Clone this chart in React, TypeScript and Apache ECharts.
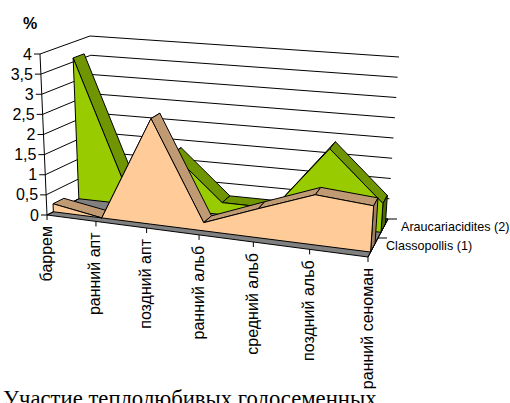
import React, { useEffect, useRef } from "react";
import * as echarts from "echarts";

const categories = ["баррем", "ранний апт", "поздний апт", "ранний альб", "средний альб", "поздний альб", "ранний сеноман"];
const valueTicks = [0, 0.5, 1, 1.5, 2, 2.5, 3, 3.5, 4];
const valueLabels = ["0", "0,5", "1", "1,5", "2", "2,5", "3", "3,5", "4"];
const depthNames = ["Classopollis (1)", "Araucariacidites (2)"];
const classopollis = [0.2, 0, 2.6, 0.2, 0.7, 1.2, 1.1];
const araucariacidites = [3.6, 0.5, 1.4, 0.3, 0.3, 1.9, 0.7];

const SANS = '"Liberation Sans", Arial, sans-serif';
const SERIF = '"Liberation Serif", "Times New Roman", serif';

// Box corners on the page, indexed [u][v][w]: u along categories, v into depth, w up.
const CORNERS: number[][][][] = [
  [
    [[47, 215], [40, 54]],
    [[96, 190], [90, 36]],
  ],
  [
    [[368, 257], [379, 88]],
    [[388, 219], [399, 57]],
  ],
];
const RIGHT_WEIGHT = 0.9; // foreshortening along the category axis

function project(u: number, v: number, w: number): number[] {
  let sx = 0;
  let sy = 0;
  let sw = 0;
  for (let a = 0; a < 2; a++) {
    for (let b = 0; b < 2; b++) {
      for (let c = 0; c < 2; c++) {
        const k = (a ? u * RIGHT_WEIGHT : 1 - u) * (b ? v : 1 - v) * (c ? w : 1 - w);
        sx += CORNERS[a][b][c][0] * k;
        sy += CORNERS[a][b][c][1] * k;
        sw += k;
      }
    }
  }
  return [sx / sw, sy / sw];
}

// The hidden grid is 100x100 at the origin, so its pixels read directly as percentages of the box.
const GRID_SIZE = 100;
function place(api: any, cat: number, val: number, v: number): number[] {
  const p = api.coord([cat, val]);
  return project(p[0] / GRID_SIZE, v, (GRID_SIZE - p[1]) / GRID_SIZE);
}

const LINE = { stroke: "#000", lineWidth: 1, fill: null as any };

function poly(points: number[][], fill: string, z2 = 0) {
  return {
    type: "polygon",
    z2,
    shape: { points },
    style: { fill, stroke: "#000", lineWidth: 1, lineJoin: "round" },
  };
}
function line(points: number[][]) {
  return { type: "polyline", shape: { points }, style: { ...LINE } };
}

function areaRenderer(values: number[], vFront: number, vRear: number, fill: string, top: string, side: string) {
  return (params: any, api: any) => {
    const i = params.dataIndex;
    const last = values.length - 1;
    const children: any[] = [];
    if (i > 0) {
      children.push(
        poly(
          [
            place(api, i - 1, values[i - 1], vFront),
            place(api, i - 1, values[i - 1], vRear),
            place(api, i, values[i], vRear),
            place(api, i, values[i], vFront),
          ],
          top
        )
      );
    }
    if (i === last) {
      children.push(
        poly(
          [
            place(api, last, values[last], vFront),
            place(api, last, values[last], vRear),
            place(api, last, 0, vRear),
            place(api, last, 0, vFront),
          ],
          side
        )
      );
      const outline = values.map((val, j) => place(api, j, val, vFront));
      outline.push(place(api, last, 0, vFront), place(api, 0, 0, vFront));
      children.push(poly(outline, fill, 5));
    }
    return { type: "group", children };
  };
}

function frameRenderer(params: any, api: any) {
  const i = params.dataIndex;
  const val = valueTicks[i];
  const children: any[] = [];
  if (i === 0) {
    children.push(
      poly(
        [place(api, 0, 0, 0), place(api, 6, 0, 0), place(api, 6, 0, 1), place(api, 0, 0, 1)],
        "#808080"
      )
    );
    children.push(line([place(api, 0, 0, 0), place(api, 0, 4, 0)]));
  }
  const a = place(api, 0, val, 0);
  children.push(line([a, place(api, 0, val, 1), place(api, 6, val, 1)]));
  children.push(line([[a[0] - 6, a[1]], a]));
  children.push({
    type: "text",
    x: a[0] - 8,
    y: a[1],
    style: {
      text: valueLabels[i],
      align: "right",
      verticalAlign: "middle",
      fontFamily: SANS,
      fontSize: 16,
      fill: "#000",
    },
  });
  return { type: "group", children };
}

function categoryRenderer(params: any, api: any) {
  const i = params.dataIndex;
  const a = place(api, i, 0, 0);
  return {
    type: "group",
    children: [
      line([a, [a[0], a[1] + 5]]),
      {
        type: "text",
        x: a[0] - 1,
        y: a[1] + 11,
        rotation: Math.PI / 2,
        style: {
          text: categories[i],
          align: "right",
          verticalAlign: "middle",
          fontFamily: SANS,
          fontSize: 16,
          fill: "#000",
        },
      },
    ],
  };
}

function depthRenderer(params: any, api: any) {
  const i = params.dataIndex;
  const children: any[] = [];
  const edge = place(api, 6, 0, 0.25 + i * 0.5);
  children.push({
    type: "text",
    x: edge[0] + 13 + i * 5,
    y: edge[1] - 2,
    style: {
      text: depthNames[i],
      align: "left",
      verticalAlign: "middle",
      fontFamily: SANS,
      fontSize: 12.6,
      fill: "#000",
    },
  });
  const t1 = place(api, 6, 0, 0.5 + i * 0.5);
  children.push(line([t1, [t1[0] + 9, t1[1]]]));
  if (i === 0) {
    children.push(line([place(api, 6, 0, 0), place(api, 6, 0, 1)]));
  }
  return { type: "group", children };
}

function customSeries(z: number, count: number, renderItem: any) {
  return {
    type: "custom",
    z,
    silent: true,
    coordinateSystem: "cartesian2d",
    renderItem,
    data: Array.from({ length: count }, (_, i) => [i, 0]),
  };
}

export default function App() {
  const ref = useRef<HTMLDivElement>(null);
  useEffect(() => {
    const chart = echarts.init(ref.current!, null, { renderer: "svg" });
    chart.setOption({
      animation: false,
      backgroundColor: "#fff",
      grid: { left: 0, top: 0, width: GRID_SIZE, height: GRID_SIZE },
      xAxis: { type: "category", data: categories, boundaryGap: false, show: false },
      yAxis: { type: "value", min: 0, max: 4, interval: 0.5, show: false },
      graphic: [
        {
          type: "text",
          x: 23,
          y: 15,
          style: { text: "%", fontFamily: SANS, fontSize: 16, fontWeight: "bold", fill: "#000" },
        },
        {
          type: "text",
          x: 3,
          y: 387,
          style: { text: "Участие теплолюбивых голосеменных", fontFamily: SERIF, fontSize: 22.7, fill: "#000" },
        },
      ],
      series: [
        customSeries(1, valueTicks.length, frameRenderer),
        customSeries(
          2,
          araucariacidites.length,
          areaRenderer(araucariacidites, 0.65, 0.87, "#99CC00", "#6F9600", "#4F6B00")
        ),
        customSeries(
          3,
          classopollis.length,
          areaRenderer(classopollis, 0.13, 0.35, "#FFCC99", "#C09A72", "#A08060")
        ),
        customSeries(4, categories.length, categoryRenderer),
        customSeries(4, depthNames.length, depthRenderer),
      ],
    });
    return () => chart.dispose();
  }, []);
  return <div ref={ref} style={{ position: "fixed", left: 0, top: 0, width: 510, height: 403, overflow: "hidden" }} />;
}
